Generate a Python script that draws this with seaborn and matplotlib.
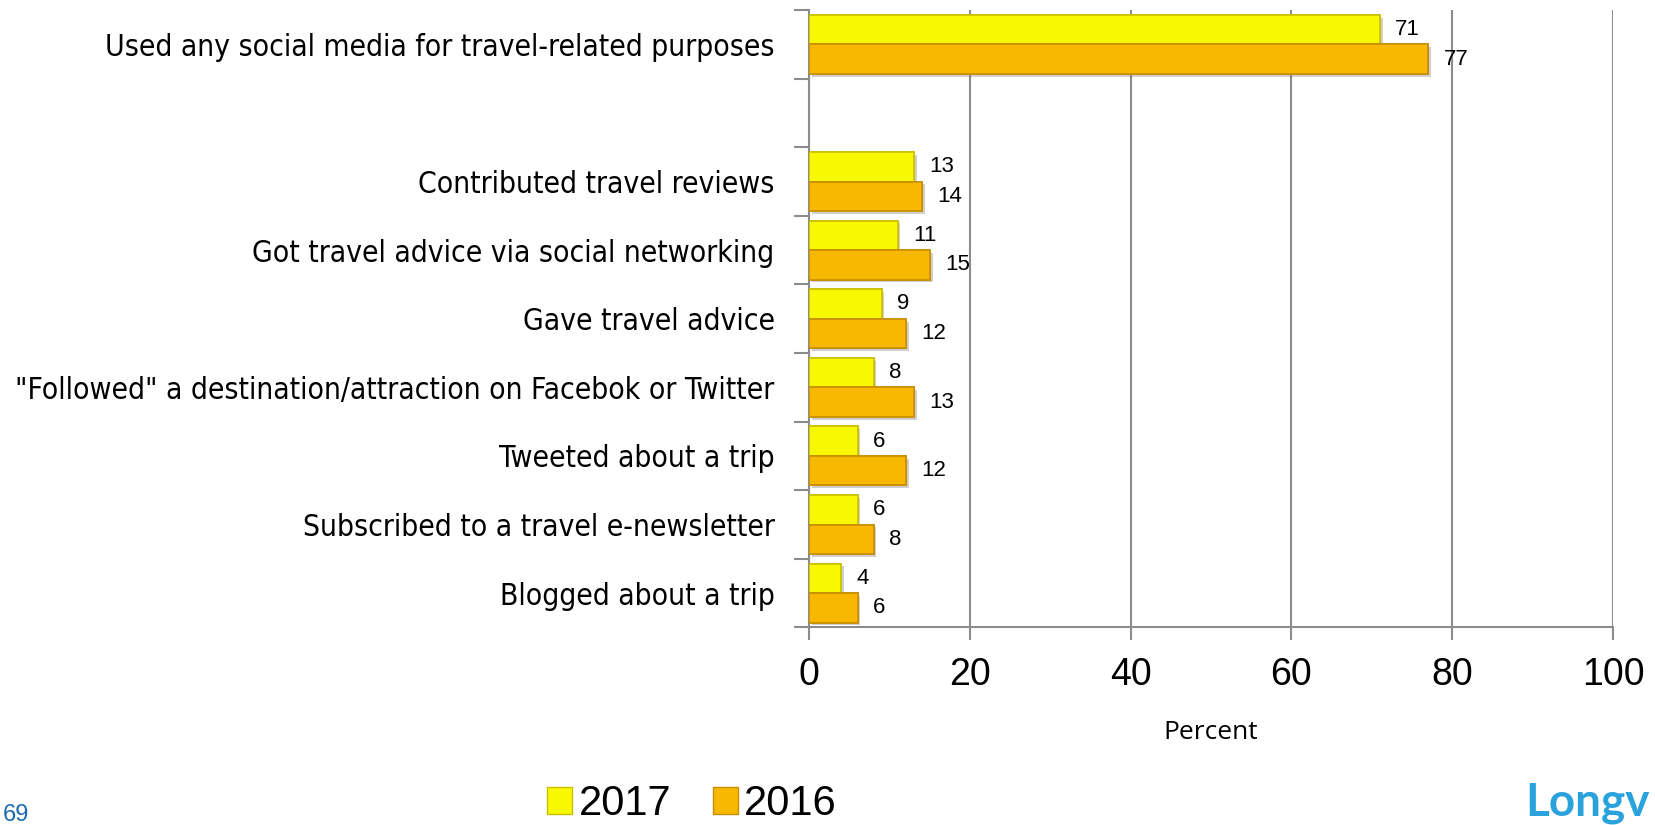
import numpy as np
import pandas as pd
import matplotlib
matplotlib.use("Agg")
import matplotlib.pyplot as plt
import matplotlib.patheffects as pe
from matplotlib.patches import Patch
import seaborn as sns

# data
categories = [
    "Used any social media for travel-related purposes",
    "Contributed travel reviews",
    "Got travel advice via social networking",
    "Gave travel advice",
    "\"Followed\" a destination/attraction on Facebok or Twitter",
    "Tweeted about a trip",
    "Subscribed to a travel e-newsletter",
    "Blogged about a trip",
]
pct_2017 = [71, 13, 11, 9, 8, 6, 6, 4]
pct_2016 = [77, 14, 15, 12, 13, 12, 8, 6]
years = ["2017", "2016"]
colors = ["#F8F800", "#F8B800"]
edge_colors = ["#C8C000", "#C89000"]

# blank slot between the headline row and the detail rows
order = [categories[0], " "] + categories[1:]

df = pd.DataFrame({
    "category": categories * 2,
    "year": ["2017"] * len(categories) + ["2016"] * len(categories),
    "value": pct_2017 + pct_2016,
})

sns.set_style("white")
plt.rcParams["font.family"] = ["Liberation Sans", "DejaVu Sans"]
plt.rcParams["text.color"] = "black"
plt.rcParams["axes.labelcolor"] = "black"
plt.rcParams["xtick.labelcolor"] = "black"
plt.rcParams["ytick.labelcolor"] = "black"

fig = plt.figure(figsize=(16.56, 8.25), dpi=100)
ax = fig.add_axes([0.4887, 0.2394, 0.4853, 0.7485])

sns.barplot(data=df, y="category", x="value", hue="year", order=order,
            hue_order=years, palette=colors, saturation=1, orient="h", width=0.86,
            errorbar=None, legend=False, ax=ax, zorder=3)

for cont, ec in zip(ax.containers, edge_colors):
    for bar in cont:
        bar.set_edgecolor(ec)
        bar.set_linewidth(1.2)
        bar.set_path_effects([pe.withSimplePatchShadow(offset=(2, -2), alpha=0.35,
                                                       shadow_rgbFace="#777777"),
                              pe.Normal()])
    ax.bar_label(cont, padding=11, fontsize=16, color="black")

ax.set_xlim(0, 100)
ax.set_ylim(len(order) - 0.5, -0.5)
ax.set_xticks([0, 20, 40, 60, 80, 100])
ax.tick_params(axis="x", labelsize=27, length=9, width=1.5, color="#8c8c8c",
               direction="out", pad=12, bottom=True)

# labels at row centres, tick marks on row boundaries
ax.set_yticks(np.arange(len(order)))
ax.set_yticklabels(order, family=["DejaVu Sans"], stretch="condensed", fontsize=21.5)
ax.tick_params(axis="y", which="major", length=0, pad=25)
ax.set_yticks(np.arange(len(order) + 1) - 0.5, minor=True)
ax.tick_params(axis="y", which="minor", length=11, width=1.5, color="#8c8c8c",
               direction="out", left=True)

ax.set_ylabel("")
ax.set_xlabel("Percent", family=["Open Sans", "DejaVu Sans"], fontsize=19, labelpad=20)

ax.grid(axis="x", color="#8c8c8c", linewidth=1.5, zorder=0)
ax.grid(axis="y", visible=False)
for side in ["top", "right"]:
    ax.spines[side].set_visible(False)
for side in ["left", "bottom"]:
    ax.spines[side].set_color("#8c8c8c")
    ax.spines[side].set_linewidth(1.5)

handles = [Patch(facecolor=c, edgecolor=e, label=y) for c, e, y in zip(colors, edge_colors, years)]
fig.legend(handles=handles, loc="center", bbox_to_anchor=(692 / 1656, 1 - 804 / 825),
           ncol=2, frameon=False, fontsize=30, handlelength=0.6, handleheight=0.6,
           handletextpad=0.15, columnspacing=1.0, borderaxespad=0)

fig.text(3 / 1656, 1 - 821 / 825, "69", color="#1B6AAE", fontsize=17, va="baseline")
fig.text(1525 / 1656, 1 - 816 / 825, "Longv", color="#2AA3DD", fontsize=33,
         family=["Lato", "DejaVu Sans"], weight="bold", va="baseline")

fig.savefig("out.png", dpi=100)
